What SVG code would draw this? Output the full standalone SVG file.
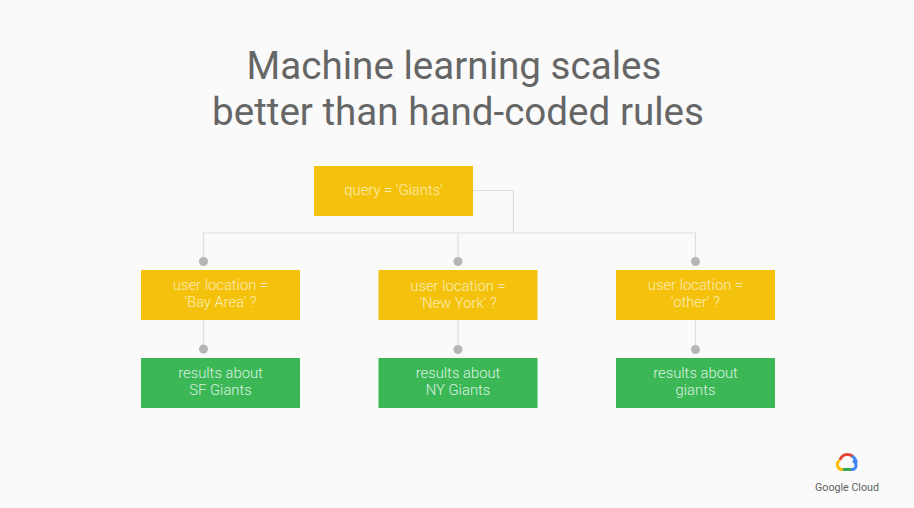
<svg xmlns="http://www.w3.org/2000/svg" width="914" height="508" viewBox="0 0 914 508">
<style>
text{font-family:Roboto,"Liberation Sans",sans-serif}
.t{font-size:38.6px;fill:#666666;text-anchor:middle}
.l{font-size:14.8px;fill:#fcecb8;text-anchor:middle;font-weight:300}
.g{fill:#dcf1e0}
.y{fill:#f4c20d}
.r{fill:#3bb755}
.c{fill:none;stroke:#dedede;stroke-width:1.2}
.d{fill:#b5b5b5}
</style>
<rect width="914" height="508" fill="#fafafa"/>
<text class="t" x="454" y="79">Machine learning scales</text>
<text class="t" x="458" y="125">better than hand-coded rules</text>
<g id="connectors">
<path class="c" d="M473 190.500H513.500V233M203.500 261V233H695.500V261M458 233V261M203.500 320V349M458 320V349M695.500 320V349"/>
<circle class="d" cx="203.500" cy="261.500" r="4.500"/>
<circle class="d" cx="458" cy="261.500" r="4.500"/>
<circle class="d" cx="695.500" cy="261.500" r="4.500"/>
<circle class="d" cx="203.500" cy="349" r="4.500"/>
<circle class="d" cx="458" cy="349.500" r="4.500"/>
<circle class="d" cx="695.500" cy="349.500" r="4.500"/>
</g>
<g id="query"><rect class="y" x="314" y="166" width="159" height="50"/><text class="l" x="393.500" y="195">query = 'Giants'</text></g>
<g id="loc-bay"><rect class="y" x="141" y="270" width="159" height="50"/><text class="l" x="220.500" y="290">user location =</text><text class="l" x="220.500" y="307">'Bay Area' ?</text></g>
<g id="loc-ny"><rect class="y" x="378.500" y="270" width="159" height="50"/><text class="l" x="458" y="291">user location =</text><text class="l" x="458" y="308">'New York' ?</text></g>
<g id="loc-other"><rect class="y" x="616" y="270" width="159" height="50"/><text class="l" x="695.500" y="290">user location =</text><text class="l" x="695.500" y="307">'other' ?</text></g>
<g id="res-sf"><rect class="r" x="141" y="358" width="159" height="50"/><text class="l g" x="220.500" y="378">results about</text><text class="l g" x="220.500" y="395">SF Giants</text></g>
<g id="res-ny"><rect class="r" x="378.500" y="358" width="159" height="50"/><text class="l g" x="458" y="378">results about</text><text class="l g" x="458" y="395">NY Giants</text></g>
<g id="res-other"><rect class="r" x="616" y="358" width="159" height="50"/><text class="l g" x="695.500" y="378">results about</text><text class="l g" x="695.500" y="395">giants</text></g>
<g id="logo" fill="none" stroke-width="3">
<path stroke="#ea4335" d="M840 460A8 8 0 0 1 853.500 457"/>
<path stroke="#4285f4" d="M852 456A8 8 0 0 1 856 461H853A4.500 4.500 0 0 1 853 469.500H847"/>
<path stroke="#34a853" d="M851 469.500H842"/>
<path stroke="#fbbc05" d="M843 469.500A4.800 4.800 0 0 1 840 460.500"/>
<text x="847" y="491" font-size="10.700" fill="#616161" stroke="none" text-anchor="middle">Google Cloud</text>
</g>
</svg>
